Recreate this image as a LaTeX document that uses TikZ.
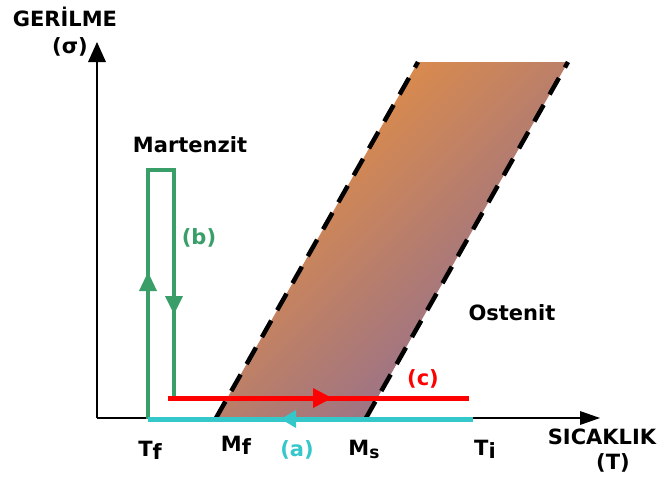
\documentclass[tikz,border=0pt]{standalone}
\usepackage{fontspec}
\setmainfont{DejaVu Sans}
\definecolor{grn}{RGB}{58,158,104}
\definecolor{cyn}{RGB}{52,200,202}
\definecolor{rd}{RGB}{255,0,0}
\definecolor{org}{RGB}{236,146,60}
\definecolor{mve}{RGB}{138,108,150}
\begin{document}
\begin{tikzpicture}[x=1pt,y=-1pt,
  lbl/.style={font=\fontsize{21}{23}\selectfont\bfseries, inner sep=0pt},
  axisline/.style={draw=black, line width=1.6pt},
  dashline/.style={draw=black, line width=4.5pt, dash pattern=on 19pt off 12pt}]
\useasboundingbox (0,0) rectangle (662,483);
% coordinates
\coordinate (O) at (97,418);
\coordinate (Ytop) at (97,62);
\coordinate (Xend) at (582,418);
\coordinate (A) at (216,418);
\coordinate (B) at (418,62);
\coordinate (C) at (366,418);
\coordinate (D) at (568,62);
% shaded region
\shade[left color=org, right color=mve, shading angle=45] (A) -- (C) -- (D) -- (B) -- cycle;
\draw[dashline] (A) -- (B);
\draw[dashline] (C) -- (D);
% axes
\draw[axisline] (O) -- (Ytop);
\fill (88,62) -- (97,42) -- (106,62) -- cycle;
\draw[axisline] (O) -- (Xend);
\fill (580,411) -- (600,418) -- (580,425) -- cycle;
% green path
\coordinate (G1) at (148,419);
\coordinate (G2) at (148,170);
\coordinate (G3) at (174,170);
\coordinate (G4) at (174,398);
\draw[grn, line width=4pt] (G1) -- (G2) -- (G3) -- (G4);
\fill[grn] (139,291) -- (148,272) -- (157,291) -- cycle;
\fill[grn] (165,296) -- (174,314) -- (183,296) -- cycle;
% cyan
\coordinate (C1) at (473,419);
\coordinate (C2) at (148,419);
\draw[cyn, line width=5pt] (C1) -- (C2);
\fill[cyn] (296,410) -- (281,419) -- (296,428) -- cycle;
% red
\coordinate (R1) at (168,398);
\coordinate (R2) at (469,398);
\draw[rd, line width=5pt] (R1) -- (R2);
\fill[rd] (313,388) -- (332,398) -- (313,408) -- cycle;
% labels
\node[lbl] (gerilme) at (65,17) {GERİLME};
\node[lbl] (sigma) at (70,47) {(σ)};
\node[lbl] (mart) at (190,145) {Martenzit};
\node[lbl, text=grn] (b) at (199,238) {(b)};
\node[lbl] (osten) at (512,313) {Ostenit};
\node[lbl, text=rd] (c) at (423,379) {(c)};
\node[lbl] (tf) at (150,450) {T\raisebox{-3pt}{f}};
\node[lbl] (mf) at (236,445) {M\raisebox{-3pt}{f}};
\node[lbl, text=cyn] (a) at (297,450) {(a)};
\node[lbl] (ms) at (364,449) {M\raisebox{-3pt}{\fontsize{17}{17}\selectfont s}};
\node[lbl] (ti) at (485,449) {T\raisebox{-3pt}{i}};
\node[lbl] (sic) at (602,437) {SICAKLIK};
\node[lbl] (tt) at (613,463) {(T)};
\end{tikzpicture}
\end{document}
